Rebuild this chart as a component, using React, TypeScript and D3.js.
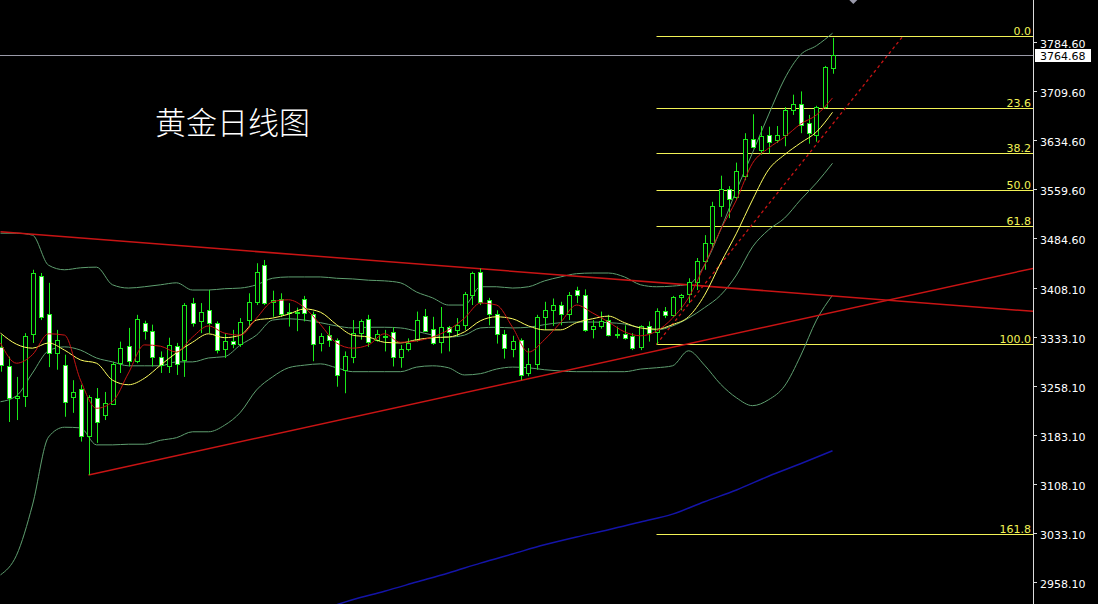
import * as d3 from "d3";

const W = 1098;
const H = 604;
const plotRight = 1033;

// daily candles, oldest first (first one is half cut off by the left edge)
const opens = [
  3318, 3289, 3240, 3243, 3338, 3426, 3368, 3309, 3290, 3241,
  3254, 3181, 3240, 3214, 3231, 3293, 3320, 3296, 3355, 3342,
  3303, 3288, 3320, 3298, 3385, 3357, 3374, 3354, 3315, 3327,
  3323, 3359, 3387, 3443, 3386, 3391, 3370, 3370, 3392, 3369,
  3324, 3336, 3329, 3282, 3303, 3339, 3360, 3329, 3334, 3340,
  3303, 3314, 3329, 3365, 3345, 3326, 3349, 3344, 3351, 3397,
  3432, 3389, 3369, 3338, 3315, 3329, 3278, 3291, 3364, 3374,
  3382, 3369, 3405, 3398, 3345, 3350, 3359, 3337, 3338, 3335,
  3318, 3350, 3341, 3373, 3367, 3394, 3399, 3418, 3450, 3477,
  3534, 3559, 3547, 3580, 3636, 3619, 3642, 3634, 3642, 3681,
  3689, 3660, 3643, 3685, 3745,
];
const highs = [
  3336, 3303, 3272, 3339, 3436, 3431, 3416, 3344, 3306, 3267,
  3260, 3244, 3255, 3249, 3295, 3326, 3347, 3367, 3358, 3352,
  3311, 3332, 3324, 3385, 3393, 3385, 3405, 3357, 3339, 3344,
  3362, 3400, 3446, 3451, 3404, 3400, 3385, 3378, 3396, 3372,
  3339, 3350, 3331, 3311, 3359, 3360, 3367, 3344, 3344, 3348,
  3321, 3331, 3372, 3376, 3364, 3379, 3350, 3362, 3402, 3433,
  3438, 3393, 3374, 3344, 3335, 3331, 3316, 3367, 3387, 3392,
  3387, 3402, 3410, 3406, 3359, 3372, 3367, 3349, 3351, 3339,
  3351, 3357, 3377, 3379, 3396, 3399, 3423, 3454, 3489, 3540,
  3580, 3564, 3600, 3645, 3674, 3656, 3655, 3656, 3685, 3704,
  3709, 3673, 3687, 3748, 3791,
];
const lows = [
  3280, 3203, 3206, 3226, 3324, 3359, 3287, 3283, 3211, 3217,
  3173, 3122, 3171, 3206, 3229, 3278, 3288, 3293, 3329, 3288,
  3278, 3278, 3275, 3272, 3349, 3339, 3339, 3308, 3301, 3316,
  3318, 3351, 3382, 3382, 3364, 3364, 3349, 3342, 3357, 3296,
  3311, 3318, 3257, 3247, 3293, 3329, 3318, 3326, 3311, 3288,
  3286, 3311, 3326, 3341, 3321, 3308, 3311, 3334, 3344, 3382,
  3382, 3351, 3323, 3300, 3302, 3267, 3273, 3283, 3344, 3350,
  3351, 3359, 3385, 3341, 3331, 3346, 3334, 3331, 3329, 3313,
  3313, 3326, 3322, 3362, 3364, 3374, 3385, 3405, 3436, 3469,
  3517, 3515, 3543, 3573, 3622, 3612, 3614, 3630, 3625, 3673,
  3645, 3629, 3632, 3683, 3736,
];
const closes = [
  3290, 3240, 3243, 3334, 3431, 3364, 3309, 3329, 3234, 3249,
  3181, 3242, 3203, 3232, 3292, 3316, 3297, 3361, 3342, 3303,
  3290, 3321, 3292, 3382, 3354, 3372, 3354, 3313, 3327, 3323,
  3356, 3387, 3433, 3385, 3390, 3369, 3372, 3371, 3370, 3323,
  3334, 3329, 3275, 3304, 3339, 3358, 3326, 3337, 3333, 3302,
  3315, 3324, 3359, 3343, 3324, 3348, 3340, 3351, 3399, 3431,
  3387, 3369, 3337, 3316, 3327, 3275, 3291, 3363, 3374, 3382,
  3369, 3397, 3397, 3344, 3350, 3357, 3336, 3338, 3332, 3316,
  3350, 3339, 3373, 3367, 3394, 3397, 3417, 3450, 3477, 3534,
  3559, 3545, 3587, 3636, 3624, 3641, 3631, 3643, 3680, 3690,
  3658, 3645, 3685, 3746, 3764.68,
];

// indicator lines, read every 2nd bar starting at bar 0
const lineStep = 2;
const maRed = [
  3324, 3293, 3306, 3338, 3336, 3267, 3224, 3234, 3278, 3321,
  3319, 3310, 3333, 3350, 3339, 3336, 3362, 3387, 3390, 3378,
  3352, 3324, 3316, 3321, 3338, 3325, 3327, 3333, 3344, 3362,
  3385, 3382, 3348, 3310, 3329, 3355, 3382, 3370, 3356, 3341,
  3335, 3342, 3362, 3393, 3443, 3497, 3543, 3599, 3622, 3639,
  3659, 3673, 3699,
];
const maYellow = [
  3339, 3322, 3316, 3324, 3313, 3298, 3293, 3267, 3260, 3270,
  3290, 3309, 3325, 3338, 3332, 3336, 3359, 3362, 3368, 3376,
  3371, 3352, 3336, 3333, 3325, 3324, 3329, 3332, 3333, 3341,
  3358, 3364, 3361, 3350, 3344, 3344, 3355, 3361, 3365, 3355,
  3347, 3345, 3352, 3364, 3397, 3446, 3492, 3543, 3589, 3612,
  3630, 3647, 3677,
];
const bbUpper = [
  3492, 3492, 3489, 3443, 3436, 3439, 3440, 3413, 3408, 3410,
  3413, 3416, 3405, 3405, 3407, 3408, 3413, 3423, 3425, 3425,
  3425, 3423, 3422, 3420, 3419, 3416, 3402, 3393, 3382, 3382,
  3410, 3410, 3408, 3410, 3419, 3425, 3430, 3431, 3431, 3425,
  3413, 3410, 3411, 3414, 3443, 3497, 3558, 3615, 3673, 3728,
  3765, 3779, 3798,
];
const bbMid = [
  3234, 3243, 3278, 3312, 3318, 3313, 3301, 3295, 3289, 3289,
  3289, 3295, 3295, 3301, 3303, 3321, 3336, 3359, 3361, 3359,
  3355, 3350, 3347, 3348, 3348, 3347, 3342, 3336, 3333, 3336,
  3347, 3348, 3347, 3348, 3352, 3355, 3356, 3356, 3355, 3353,
  3347, 3344, 3350, 3362, 3378, 3397, 3428, 3471, 3497, 3515,
  3543, 3569, 3599,
];
const bbLower = [
  2969, 2999, 3076, 3180, 3195, 3194, 3168, 3168, 3169, 3169,
  3175, 3179, 3188, 3188, 3198, 3218, 3252, 3272, 3286, 3290,
  3292, 3286, 3280, 3280, 3280, 3280, 3287, 3289, 3286, 3275,
  3277, 3284, 3287, 3286, 3283, 3281, 3280, 3280, 3280, 3280,
  3284, 3286, 3289, 3312, 3290, 3261, 3240, 3228, 3237, 3258,
  3304, 3359, 3397,
];
// long moving average, every 4th bar from bar 40
const blueStart = 40;
const blueStep = 4;
const maBlue = [
  2915, 2931, 2944, 2958, 2972, 2987, 3001, 3015, 3027, 3038,
  3050, 3062, 3081, 3099, 3120, 3139, 3159,
];

// trend lines as [bar, price] anchor pairs
const trendDown = [[0, 3494], [104, 3396]];
const trendUp = [[11, 3122], [104, 3371]];
const trendDash = [[82, 3322], [112.9, 3795]];

const fibLevels = [0, 23.6, 38.2, 50, 61.8, 100, 161.8];
const fibHigh = 3794;
const fibLow = 3323;
const fibStartBar = 82;

const priceTicks = [
  3784.6, 3709.6, 3634.6, 3559.6, 3484.6, 3408.1,
  3333.1, 3258.1, 3183.1, 3108.1, 3033.1, 2958.1,
];
const lastPrice = 3764.68;
const title = "黄金日线图";

const GREEN = "#1aea1a";
const BB = "#5f9f70";
const RED = "#c81414";
const YELLOW = "#ffff60";
const FIB = "#f2f256";
const BLUE = "#1414a8";
const AXIS_FONT = "DejaVu Sans, sans-serif";

export default function App() {
  const x = d3.scaleLinear().domain([0, 104]).range([0.5, 832.5]);
  const y = d3.scaleLinear().domain([2958.1, 3784.6]).range([582, 42]);

  const stepped = (vals: number[], start: number, step: number) =>
    vals.map((v, k) => [start + k * step, v] as [number, number]);

  const line = d3
    .line<[number, number]>()
    .x((d) => x(d[0]))
    .y((d) => y(d[1]))
    .curve(d3.curveMonotoneX);

  const straight = d3
    .line<[number, number]>()
    .x((d) => x(d[0]))
    .y((d) => y(d[1]));

  // extend a two point trend line to the right edge of the plot
  const ray = (pts: number[][]) => {
    const [[i0, p0], [i1, p1]] = pts;
    const slope = (p1 - p0) / (i1 - i0);
    const iEnd = x.invert(plotRight);
    return straight([
      [i0, p0],
      [iEnd, p0 + (iEnd - i0) * slope],
    ]);
  };

  const fibPrice = (lv: number) => fibHigh - ((fibHigh - fibLow) * lv) / 100;
  const fibX = x(fibStartBar);
  const lastY = Math.round(y(lastPrice));

  return (
    <svg
      width={W}
      height={H}
      style={{ position: "absolute", left: 0, top: 0, display: "block", background: "#000" }}
    >
      <defs>
        <clipPath id="plot">
          <rect x={0} y={0} width={plotRight} height={H} />
        </clipPath>
      </defs>
      <rect width={W} height={H} fill="#000" />

      <text
        x={155}
        y={134}
        fill="#ffffff"
        fontSize={31}
        fontWeight={300}
        fontFamily="Noto Sans CJK SC, sans-serif"
      >
        {title}
      </text>

      <g clipPath="url(#plot)">
        {/* last price line */}
        <line
          x1={0}
          x2={plotRight}
          y1={lastY + 0.5}
          y2={lastY + 0.5}
          stroke="#9a9aa8"
          strokeWidth={1}
        />

        {/* fibonacci */}
        {fibLevels.map((lv) => {
          const yy = Math.round(y(fibPrice(lv))) + 0.5;
          return (
            <g key={lv}>
              <line x1={fibX} x2={plotRight} y1={yy} y2={yy} stroke={FIB} strokeWidth={1} />
              <text
                x={plotRight - 2}
                y={yy - 2}
                textAnchor="end"
                fill={FIB}
                fontSize={11}
                fontFamily={AXIS_FONT}
              >
                {lv.toFixed(1)}
              </text>
            </g>
          );
        })}

        {/* bollinger bands */}
        {[bbUpper, bbMid, bbLower].map((s, k) => (
          <path
            key={k}
            d={line(stepped(s, 0, lineStep)) || ""}
            fill="none"
            stroke={BB}
            strokeWidth={1}
          />
        ))}

        {/* long MA */}
        <path
          d={line(stepped(maBlue, blueStart, blueStep)) || ""}
          fill="none"
          stroke={BLUE}
          strokeWidth={1.5}
        />

        {/* trend lines */}
        <path d={ray(trendDown) || ""} fill="none" stroke={RED} strokeWidth={1.5} />
        <path d={ray(trendUp) || ""} fill="none" stroke={RED} strokeWidth={1.5} />
        <path
          d={straight(trendDash as [number, number][]) || ""}
          fill="none"
          stroke={RED}
          strokeWidth={1.3}
          strokeDasharray="3,3"
        />

        {/* candles */}
        {opens.map((o, i) => {
          const c = closes[i];
          const cx = Math.round(x(i)) + 0.5;
          const top = Math.round(y(Math.max(o, c))) + 0.5;
          const bot = Math.round(y(Math.min(o, c))) + 0.5;
          const bear = c < o;
          return (
            <g key={i}>
              <line
                x1={cx}
                x2={cx}
                y1={y(highs[i])}
                y2={y(lows[i])}
                stroke={GREEN}
                strokeWidth={1}
              />
              <rect
                x={cx - 2}
                y={top}
                width={4}
                height={Math.max(1, bot - top)}
                fill={bear ? "#ffffff" : "#000000"}
                stroke={GREEN}
                strokeWidth={1}
              />
            </g>
          );
        })}

        {/* moving averages */}
        <path
          d={line(stepped(maYellow, 0, lineStep)) || ""}
          fill="none"
          stroke={YELLOW}
          strokeWidth={1}
        />
        <path
          d={line(stepped(maRed, 0, lineStep)) || ""}
          fill="none"
          stroke={RED}
          strokeWidth={1}
        />
      </g>

      {/* chart shift marker */}
      <path
        d={`M${x(106.6) - 4},0 L${x(106.6) + 4},0 L${x(106.6)},4 Z`}
        fill="#9a9aaa"
      />

      {/* price axis */}
      <line x1={plotRight + 0.5} x2={plotRight + 0.5} y1={0} y2={H} stroke="#dcdcdc" strokeWidth={1} />
      {priceTicks.map((p) => {
        const yy = Math.round(y(p)) + 0.5;
        return (
          <g key={p}>
            <line x1={plotRight} x2={plotRight + 4} y1={yy} y2={yy} stroke="#dcdcdc" />
            <text x={1040} y={yy + 5} fill="#ffffff" fontSize={11} fontFamily={AXIS_FONT}>
              {p.toFixed(2)}
            </text>
          </g>
        );
      })}
      <rect x={plotRight + 2} y={lastY - 6} width={56} height={13} fill="#ffffff" />
      <text x={1040} y={lastY + 5} fill="#000000" fontSize={11} fontFamily={AXIS_FONT}>
        {lastPrice.toFixed(2)}
      </text>
    </svg>
  );
}
